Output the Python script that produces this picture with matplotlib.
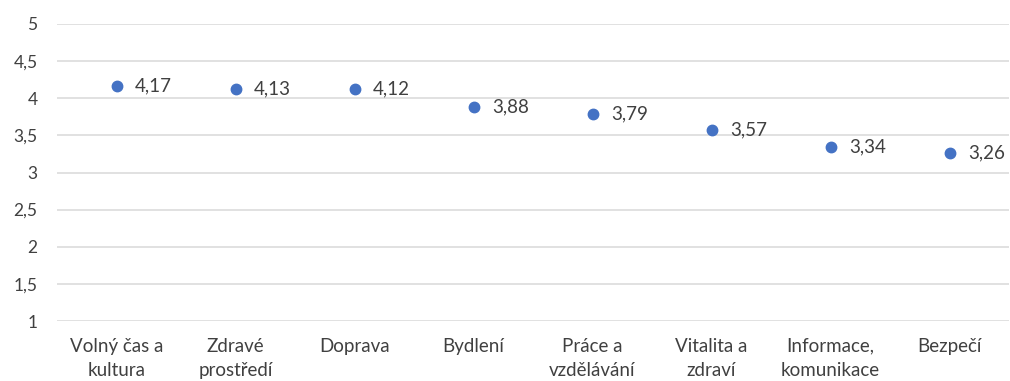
import matplotlib.pyplot as plt
from matplotlib.ticker import FuncFormatter

# kategorie a průměrné hodnocení
kategorie = ['Volný čas a\nkultura', 'Zdravé\nprostředí', 'Doprava', 'Bydlení',
             'Práce a\nvzdělávání', 'Vitalita a\nzdraví', 'Informace,\nkomunikace', 'Bezpečí']
hodnoty = [4.17, 4.13, 4.12, 3.88, 3.79, 3.57, 3.34, 3.26]
y_ticks = [1, 1.5, 2, 2.5, 3, 3.5, 4, 4.5, 5]

plt.rcParams['font.family'] = ['Lato', 'DejaVu Sans']
text_color = '#404040'

fig = plt.figure(figsize=(10.1, 3.81), dpi=100)
ax = fig.add_axes([57 / 1010, 1 - 321 / 381, 952 / 1010, 297 / 381])

x = list(range(len(hodnoty)))
ax.plot(x, hodnoty, 'o', color='#4472C4', markersize=7.5, zorder=3)

for xi, v in zip(x, hodnoty):
    ax.annotate(f'{v:.2f}'.replace('.', ','), (xi, v), xytext=(13.5, 0),
                textcoords='offset points', va='center', ha='left',
                fontsize=13.5, color=text_color)

ax.set_xlim(-0.5, len(hodnoty) - 0.5)
ax.set_ylim(1, 5)
ax.set_yticks(y_ticks)
ax.yaxis.set_major_formatter(FuncFormatter(lambda v, p: f'{v:g}'.replace('.', ',')))
ax.set_xticks(x)
ax.set_xticklabels(kategorie, linespacing=1.5, fontsize=13.5)

ax.grid(axis='y', color='#d9d9d9', linewidth=1.1)
ax.set_axisbelow(True)
for s in ax.spines.values():
    s.set_visible(False)
ax.tick_params(axis='both', length=0, colors=text_color)
ax.tick_params(axis='y', pad=14, labelsize=12.5)
ax.tick_params(axis='x', pad=12)

plt.savefig('out.png', dpi=100)
